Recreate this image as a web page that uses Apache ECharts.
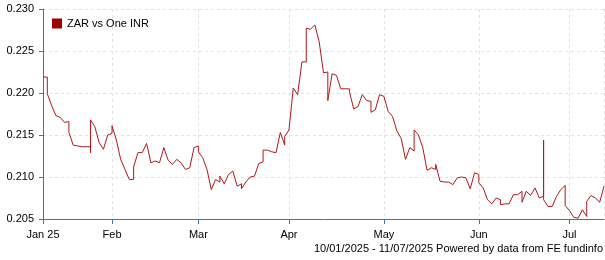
<!DOCTYPE html>
<html><head><meta charset="utf-8">
<script src="https://cdn.jsdelivr.net/npm/echarts@6/dist/echarts.min.js"></script>
<style>html,body{margin:0;padding:0;background:#fff}#c{width:605px;height:260px}</style>
</head><body><div id="c"></div>
<script>
// ZAR vs One INR, trading days 10 Jan 2025 - 11 Jul 2025 (weekdays, index 0..130)
const seriesName = 'ZAR vs One INR';
const monthLabels = ['Jan 25', 'Feb', 'Mar', 'Apr', 'May', 'Jun', 'Jul'];
const monthStartIndex = [0, 16, 36, 57, 79, 101, 122];
const yMin = 0.205, yMax = 0.230, yStep = 0.005;
const footerText = '10/01/2025 - 11/07/2025 Powered by data from FE fundinfo';

// closing rate per weekday
const weekdayRates = [
  0.2219, 0.2199, 0.2185, 0.2173, 0.2171, 0.2165, 0.2153, 0.2138, 0.2137, 0.2136,
  0.2136, 0.2168, 0.2160, 0.2141, 0.2133, 0.2150, 0.2161, 0.2144, 0.2121, 0.2109,
  0.2097, 0.2112, 0.2129, 0.2129, 0.2140, 0.2117, 0.2119, 0.2117, 0.2135, 0.2120,
  0.2115, 0.2121, 0.2117, 0.2109, 0.2111, 0.2135, 0.2130, 0.2123, 0.2109, 0.2085,
  0.2097, 0.2101, 0.2092, 0.2103, 0.2107, 0.2089, 0.2086, 0.2094, 0.2100, 0.2101,
  0.2116, 0.2132, 0.2132, 0.2130, 0.2129, 0.2153, 0.2148, 0.2156, 0.2206, 0.2198,
  0.2237, 0.2277, 0.2276, 0.2281, 0.2261, 0.2224, 0.2191, 0.2223, 0.2221, 0.2205,
  0.2205, 0.2202, 0.2181, 0.2184, 0.2198, 0.2191, 0.2177, 0.2180, 0.2198, 0.2196,
  0.2178, 0.2172, 0.2155, 0.2146, 0.2121, 0.2135, 0.2156, 0.2150, 0.2135, 0.2108,
  0.2111, 0.2115, 0.2095, 0.2094, 0.2094, 0.2091, 0.2099, 0.2100, 0.2099, 0.2086,
  0.2105, 0.2093, 0.2087, 0.2073, 0.2068, 0.2075, 0.2067, 0.2068, 0.2068, 0.2079,
  0.2079, 0.2070, 0.2083, 0.2078, 0.2087, 0.2075, 0.2073, 0.2065, 0.2065, 0.2077,
  0.2085, 0.2066, 0.2060, 0.2052, 0.2051, 0.2061, 0.2071, 0.2078, 0.2075, 0.2070,
  0.2089
];

// weekend quotes, plotted on the following Monday (keyed by Monday's weekday index)
const weekendRates = {
  1: [0.2219], 6: [0.2166], 11: [0.2136, 0.2129], 16: [0.2152], 21: [0.2097],
  36: [0.2137], 41: [0.2094], 46: [0.2092], 51: [0.2118], 56: [0.2138],
  61: [0.2237], 66: [0.2225], 71: [0.2205], 76: [0.2190], 86: [0.2131],
  91: [0.2109], 101: [0.2103], 106: [0.2073], 111: [0.2083], 116: [0.2077, 0.2144],
  121: [0.2090], 126: [0.2053]
};

const points = [];
weekdayRates.forEach((v, i) => {
  (weekendRates[i] || []).forEach(w => points.push([i, w]));
  points.push([i, v]);
});
const lastIndex = weekdayRates.length - 1;
const categories = weekdayRates.map((_, i) => {
  const k = monthStartIndex.indexOf(i);
  return k >= 0 ? monthLabels[k] : '';
});
const isMonth = (i) => monthStartIndex.indexOf(i) >= 0;

const axisColor = '#4572a7';
const gridColor = '#e2e2e2';
const font = '"Liberation Sans", Arial, sans-serif';

const chart = echarts.init(document.getElementById('c'), null, {renderer: 'canvas'});
chart.setOption({
  animation: false,
  backgroundColor: '#fff',
  textStyle: {fontFamily: font},
  grid: {left: 43, right: 1, top: 9, bottom: 41, containLabel: false},
  legend: {
    left: 47, top: 13, itemWidth: 10, itemHeight: 10, icon: 'rect',
    textStyle: {fontSize: 11, color: '#000', fontFamily: font},
    data: [{name: seriesName, icon: 'rect'}]
  },
  xAxis: [{
    type: 'category', data: categories, boundaryGap: false,
    axisLine: {show: true, lineStyle: {color: axisColor, width: 1}},
    axisTick: {show: true, length: 5, interval: (i) => isMonth(i), lineStyle: {color: axisColor}},
    axisLabel: {interval: (i) => isMonth(i), margin: 10, fontSize: 11, color: '#000', fontFamily: font},
    splitLine: {show: true, interval: (i) => isMonth(i) || i === lastIndex,
      lineStyle: {color: gridColor, type: [3, 3], width: 1}}
  }, {
    type: 'value', min: 0, max: lastIndex, show: false,
    splitLine: {show: false}
  }],
  yAxis: {
    type: 'value', min: yMin, max: yMax, interval: yStep,
    axisLine: {show: true, lineStyle: {color: axisColor, width: 1}},
    axisTick: {show: true, length: 4, lineStyle: {color: axisColor}},
    axisLabel: {margin: 9, fontSize: 11, color: '#000', fontFamily: font,
      formatter: (v) => v.toFixed(3)},
    splitLine: {show: true, lineStyle: {color: gridColor, type: [3, 3], width: 1}}
  },
  series: [{
    name: seriesName, type: 'line', xAxisIndex: 1, data: points,
    showSymbol: false, symbol: 'none',
    lineStyle: {color: '#b01818', width: 1},
    itemStyle: {color: '#9e0000'}
  }],
  graphic: [{
    type: 'text', right: 2, top: 243,
    style: {text: footerText, fill: '#000', font: '11px ' + font}
  }]
});
</script>
</body></html>
